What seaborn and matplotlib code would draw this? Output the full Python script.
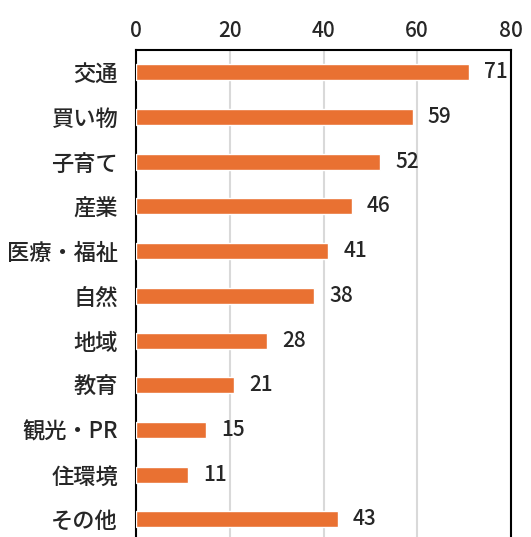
import matplotlib
matplotlib.use('Agg')
import matplotlib.pyplot as plt
import seaborn as sns
import pandas as pd

categories = ['交通', '買い物', '子育て', '産業', '医療・福祉', '自然', '地域', '教育', '観光・PR', '住環境', 'その他']
counts = [71, 59, 52, 46, 41, 38, 28, 21, 15, 11, 43]
x_ticks = [0, 20, 40, 60, 80]

sns.set_style('white')
plt.rcParams['font.family'] = ['Noto Sans CJK JP', 'DejaVu Sans']
plt.rcParams['font.weight'] = 'medium'

df = pd.DataFrame({'category': categories, 'count': counts})

fig = plt.figure(figsize=(5.31, 5.37), dpi=100)
ax = fig.add_axes([136 / 531, -4.7 / 537, 375 / 531, 491.7 / 537])

sns.barplot(data=df, x='count', y='category', color='#E97132', width=0.36,
            saturation=1, ax=ax, zorder=3)

ax.set_xlim(0, 80)
ax.set_ylim(10.5, -0.5)
ax.set_xticks(x_ticks)
ax.xaxis.tick_top()
ax.tick_params(axis='x', length=0, pad=6, labelsize=15)
ax.tick_params(axis='y', length=0, pad=13, labelsize=16)
ax.set_xlabel('')
ax.set_ylabel('')
ax.grid(axis='x', color='#d9d9d9', linewidth=1.5, zorder=0)

for side in ['top', 'left', 'right']:
    ax.spines[side].set_color('black')
    ax.spines[side].set_linewidth(1.5)
ax.spines['bottom'].set_visible(False)

ax.bar_label(ax.containers[0], padding=11, fontsize=15)

fig.savefig('out.png', dpi=100)
